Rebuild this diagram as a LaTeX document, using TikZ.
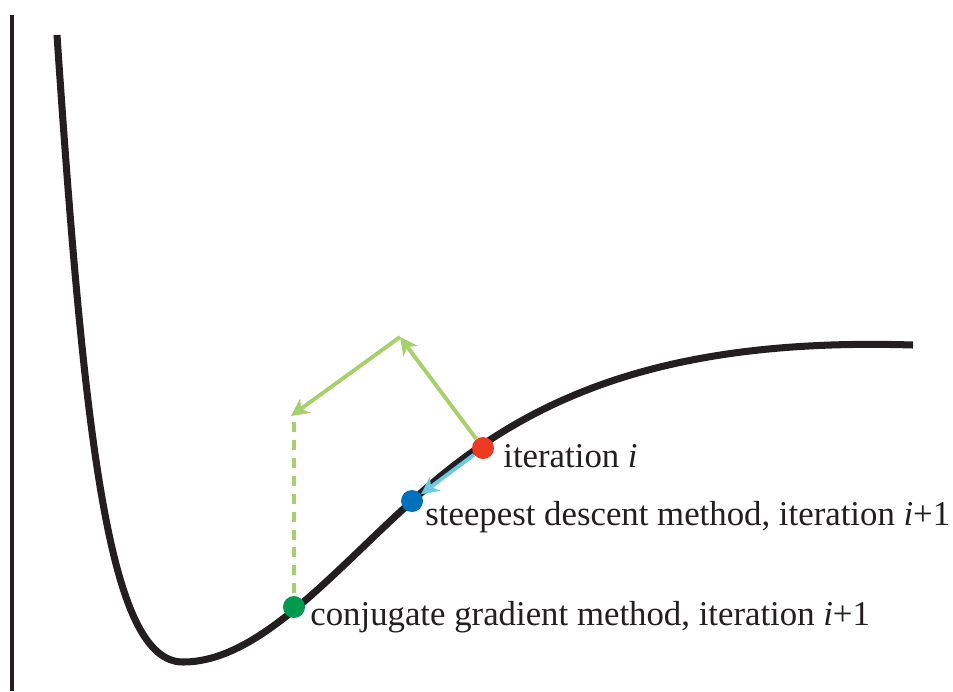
\documentclass[tikz,border=0pt]{standalone}
\usepackage{fontspec}
\setmainfont{Liberation Serif}
\usepackage{tikz}
\usetikzlibrary{arrows.meta,positioning,calc}

\definecolor{dotred}{RGB}{238,58,35}
\definecolor{dotblue}{RGB}{0,114,188}
\definecolor{dotgreen}{RGB}{0,154,78}
\definecolor{lightgreen}{RGB}{166,208,106}
\definecolor{lightcyan}{RGB}{108,203,227}
\definecolor{curveblack}{RGB}{35,31,32}

\begin{document}
\begin{tikzpicture}[
  x=0.02cm, y=-0.02cm,
  curve/.style={line width=4pt, curveblack, line cap=butt},
  axis/.style={line width=2pt, curveblack},
  dot/.style={circle, inner sep=0pt, minimum size=0.44cm},
  lbl/.style={anchor=base west, inner sep=0pt, text=curveblack,
    font=\fontsize{19.8}{24}\selectfont},
  garr/.style={-{Stealth[length=10pt, width=10pt, inset=3pt]}, line width=2.2pt, lightgreen},
  barr/.style={-{Stealth[length=10pt, width=10pt, inset=3pt]}, line width=2.2pt, lightcyan},
  gdash/.style={line width=2.2pt, lightgreen, dash pattern=on 5.7pt off 4.5pt}
]
\useasboundingbox (0,0) rectangle (953,691);

% axis and energy curve
\draw[axis] (12,15) -- (12,691);
\draw[curve] (57,35) .. controls (85,450) and (110,662) .. (183,662)
  .. controls (258,662) and (330,575) .. (412,501)
  .. controls (520,402) and (655,337) .. (913,345);

% iterates
\node[dot, fill=dotred] (red) at (483,448) {};
\node[dot, fill=dotblue] (blue) at (412,501) {};
\node[dot, fill=dotgreen] (green) at (294,607) {};

\coordinate (apex) at (400,337);
\coordinate (corner) at (291,416);

% search directions
\draw[garr] (red) -- (apex);
\draw[garr] (apex) -- (corner);
\draw[gdash] ($(corner)+(3,6)$) -- (green);
\draw[barr] (red) -- (blue);

% labels
\node[lbl] (lblred) at (503,467) {iteration \textit{i}};
\node[lbl] (lblblue) at (425,525) {steepest descent method, iteration \textit{i}+1};
\node[lbl] (lblgreen) at (310,625) {conjugate gradient method, iteration \textit{i}+1};

\end{tikzpicture}
\end{document}
